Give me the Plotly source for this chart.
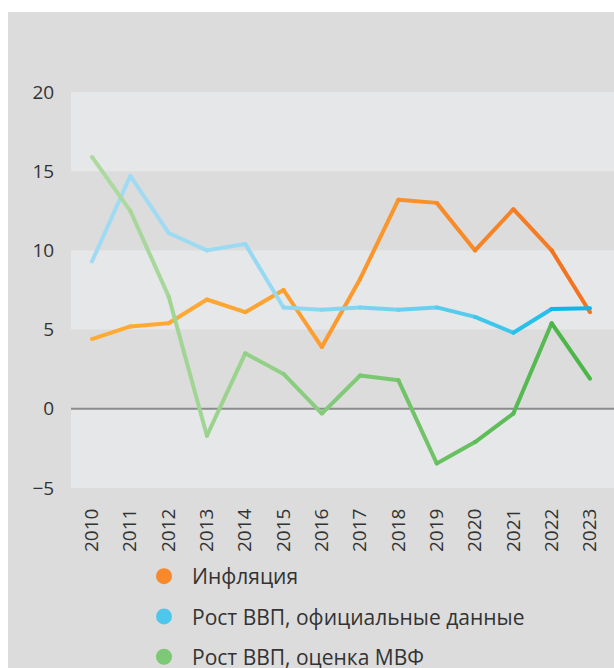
import plotly.graph_objects as go

years = list(range(2010, 2024))
inflation = [4.4, 5.2, 5.4, 6.9, 6.1, 7.5, 3.9, 8.2, 13.2, 13.0, 10.0, 12.6, 10.0, 6.1]
gdp_official = [9.3, 14.7, 11.1, 10.0, 10.4, 6.4, 6.25, 6.4, 6.25, 6.4, 5.8, 4.8, 6.3, 6.35]
gdp_imf = [15.9, 12.5, 7.1, -1.7, 3.5, 2.2, -0.3, 2.1, 1.8, -3.45, -2.1, -0.3, 5.4, 1.9]
names = ["Инфляция", "Рост ВВП, официальные данные", "Рост ВВП, оценка МВФ"]
y_ticks = [-5, 0, 5, 10, 15, 20]
light_bands = [(15, 20), (5, 10), (-5, 0)]

series = [
    (inflation, (255, 170, 52), (243, 116, 32), 1.8, "#f7892b"),
    (gdp_official, (160, 219, 243), (8, 186, 229), 2.5, "#4fc6ec"),
    (gdp_imf, (172, 217, 158), (76, 182, 72), 1.2, "#7cc874"),
]

FONT = "Open Sans"
TXT = "#333333"
BG = "#dcdcdc"
BAND = "#e6e7e9"

W, H = 614, 668
L, T, B = 71, 92, 180
PW, PH = W - L, H - T - B


def mix(c1, c2, t):
    return "rgb(%d,%d,%d)" % tuple(round(a + (b - a) * t) for a, b in zip(c1, c2))


fig = go.Figure()

for idx, (vals, c_light, c_dark, power, legend_col) in enumerate(series):
    n = len(vals)
    for i in range(n - 1):
        t = (i / (n - 2)) ** power
        col = mix(c_light, c_dark, t)
        fig.add_trace(go.Scatter(
            x=years[i:i + 2], y=vals[i:i + 2], mode="lines+markers",
            line=dict(color=col, width=4),
            marker=dict(color=col, size=4, line=dict(width=0)),
            showlegend=False, hoverinfo="skip",
        ))

for idx, (vals, c_light, c_dark, power, legend_col) in enumerate(series):
    fig.add_trace(go.Scatter(
        x=[None], y=[None], mode="markers", name=names[idx],
        legendgroup=str(idx),
        marker=dict(color=legend_col, size=18, symbol="circle"),
    ))

shapes = []
for lo, hi in light_bands:
    shapes.append(dict(type="rect", xref="paper", yref="y", x0=0, x1=1, y0=lo, y1=hi,
                       fillcolor=BAND, line=dict(width=0), layer="below"))
shapes.append(dict(type="line", xref="paper", yref="y", x0=0, x1=1, y0=0, y1=0,
                   line=dict(color="#8c8c8c", width=2), layer="below"))
# white frame: top strip (12 px) and left strip (8 px) around the grey card
shapes.append(dict(type="rect", xref="paper", yref="paper",
                   x0=-L / PW - 0.02, x1=1.02, y0=1 + (T - 12) / PH, y1=1 + (T + 10) / PH,
                   fillcolor="white", line=dict(width=0), layer="above"))
shapes.append(dict(type="rect", xref="paper", yref="paper",
                   x0=-(L + 10) / PW, x1=-(L - 8) / PW, y0=-(B + 10) / PH, y1=1 + (T + 10) / PH,
                   fillcolor="white", line=dict(width=0), layer="above"))

fig.update_layout(
    width=W, height=H,
    margin=dict(l=L, r=0, t=T, b=B, autoexpand=False),
    paper_bgcolor=BG, plot_bgcolor=BG,
    font=dict(family=FONT, color=TXT, size=19),
    shapes=shapes,
    showlegend=True,
    legend=dict(
        x=(136 - L) / PW, y=-68 / PH, xanchor="left", yanchor="top",
        bgcolor="rgba(0,0,0,0)", font=dict(size=21, color=TXT, family=FONT),
        tracegroupgap=10, itemsizing="trace", itemwidth=46,
    ),
    xaxis=dict(
        range=[2009.452, 2023.627], tickmode="array", tickvals=years,
        ticktext=[str(y) for y in years], tickangle=-90,
        showgrid=False, zeroline=False, showline=False,
        ticks="outside", ticklen=12, tickcolor="rgba(0,0,0,0)",
        tickfont=dict(size=19, color=TXT, family=FONT),
    ),
    yaxis=dict(
        range=[-5, 20], tickmode="array", tickvals=y_ticks,
        ticktext=["\u22125" if v < 0 else str(v) for v in y_ticks],
        showgrid=False, zeroline=False, showline=False,
        ticks="outside", ticklen=12, tickcolor="rgba(0,0,0,0)",
        tickfont=dict(size=19, color=TXT, family=FONT),
    ),
)

fig.write_html(
    "out.html",
    config=dict(displayModeBar=False),
    post_script="document.body.style.margin='0';"
                "document.documentElement.style.overflow='hidden';",
)
